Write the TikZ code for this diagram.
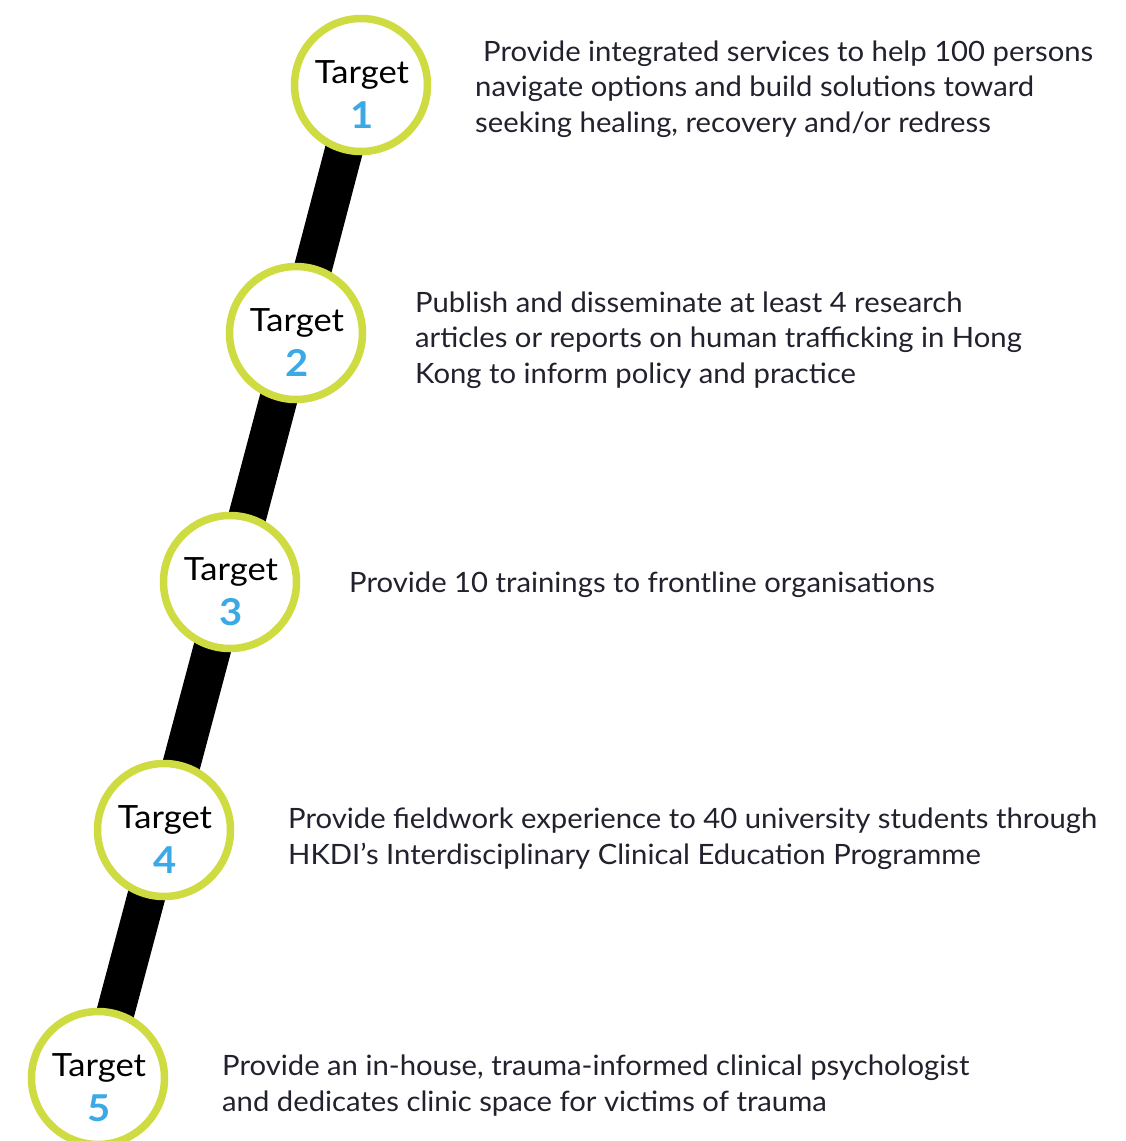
\documentclass[tikz,border=0pt]{standalone}
\usepackage{fontspec}
\setmainfont{Lato}
\newfontfamily\descfont[FakeStretch=1.045]{Lato}
\newfontfamily\tgtfont[FakeStretch=1.08]{Lato}
\usetikzlibrary{backgrounds}
\definecolor{lime}{HTML}{CEDC42}
\definecolor{numblue}{HTML}{3AA9E6}
\definecolor{txt}{HTML}{22222E}
\tikzset{
  ring/.style={circle, draw=lime, line width=7.5pt, fill=white, minimum size=133pt, inner sep=0pt},
  spine/.style={line width=38pt, black},
  tlabel/.style={anchor=base, font=\tgtfont\fontsize{32}{36}\selectfont, text=black, inner sep=0pt},
  tnum/.style={anchor=base, font=\tgtfont\fontsize{37}{40}\selectfont\bfseries, text=numblue, inner sep=0pt},
  desc/.style={anchor=base west, align=left, inner sep=0pt, text=txt, font=\descfont\fontsize{28}{35.5}\selectfont}
}
\begin{document}
\begin{tikzpicture}[x=1pt,y=-1pt]
\useasboundingbox (0,0) rectangle (1125,1141);
\clip (0,0) rectangle (1125,1141);
\node[ring] (c1) at (361,85) {};
\node[ring] (c2) at (296,333) {};
\node[ring] (c3) at (230,582) {};
\node[ring] (c4) at (164,830) {};
\node[ring] (c5) at (98,1078) {};
\begin{scope}[on background layer]
\fill[white] (0,0) rectangle (1125,1141);
\draw[spine] (c1.center) -- (c2.center);
\draw[spine] (c2.center) -- (c3.center);
\draw[spine] (c3.center) -- (c4.center);
\draw[spine] (c4.center) -- (c5.center);
\end{scope}
\node[tlabel] (t1) at (362,83) {Target};
\node[tnum] (n1) at (362,128) {1};
\node[tlabel] (t2) at (297,331) {Target};
\node[tnum] (n2) at (297,376) {2};
\node[tlabel] (t3) at (231,580) {Target};
\node[tnum] (n3) at (231,625) {3};
\node[tlabel] (t4) at (165,828) {Target};
\node[tnum] (n4) at (165,873) {4};
\node[tlabel] (t5) at (99,1076) {Target};
\node[tnum] (n5) at (99,1121) {5};
\node[desc] (d1) at (483,132) {Provide integrated services to help 100 persons\\\hspace*{-8pt}navigate options and build solutions toward\\\hspace*{-8pt}seeking healing, recovery and/or redress};
\node[desc] (d2) at (415,383) {Publish and disseminate at least 4 research\\articles or reports on human trafficking in Hong\\Kong to inform policy and practice};
\node[desc] (d3) at (349,592) {Provide 10 trainings to frontline organisations};
\node[desc] (d4) at (288,864) {Provide fieldwork experience to 40 university students through\\HKDI’s Interdisciplinary Clinical Education Programme};
\node[desc] (d5) at (222,1111) {Provide an in-house, trauma-informed clinical psychologist\\and dedicates clinic space for victims of trauma};
\end{tikzpicture}
\end{document}
